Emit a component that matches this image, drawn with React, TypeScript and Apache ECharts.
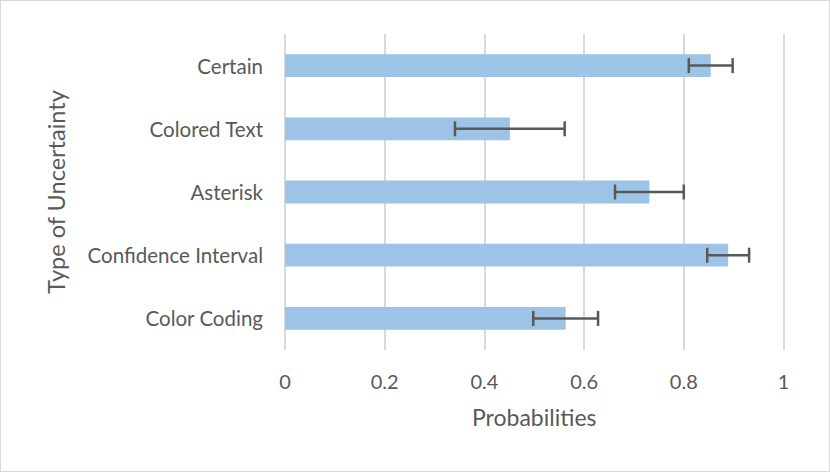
import React, { useEffect, useRef } from "react";
import * as echarts from "echarts";

const categories = ["Color Coding", "Confidence Interval", "Asterisk", "Colored Text", "Certain"];
const means = [0.563, 0.889, 0.731, 0.451, 0.854];
const errors = [0.065, 0.042, 0.069, 0.11, 0.044];
const xTicks = [0, 0.2, 0.4, 0.6, 0.8, 1];

export default function App() {
  const ref = useRef<HTMLDivElement>(null);
  useEffect(() => {
    document.body.style.margin = "0";
    const chart = echarts.init(ref.current!, null, { renderer: "svg" });
    const font = "Lato, 'Open Sans', sans-serif";
    const errData = categories.map((c, i) => [i, means[i] - errors[i], means[i] + errors[i]]);
    chart.setOption({
      animation: false,
      grid: { left: 285, right: 46.5, top: 34, bottom: 122, containLabel: false },
      xAxis: {
        type: "value",
        min: 0,
        max: 1,
        interval: 0.2,
        name: "Probabilities",
        nameLocation: "middle",
        nameGap: 55,
        nameTextStyle: { color: "#595959", fontSize: 23, fontFamily: font },
        axisLine: { show: false },
        axisTick: { show: false },
        axisLabel: {
          color: "#595959",
          fontSize: 20,
          fontFamily: font,
          margin: 21,
          formatter: (v: number) => (xTicks.includes(v) ? String(v) : ""),
        },
        splitLine: { show: true, lineStyle: { color: "#D9D9D9", width: 2 } },
      },
      yAxis: {
        type: "category",
        data: categories,
        name: "Type of Uncertainty",
        nameLocation: "middle",
        nameGap: 217,
        nameRotate: 90,
        nameTextStyle: { color: "#595959", fontSize: 23.5, fontFamily: font },
        axisLine: { show: false },
        axisTick: { show: false },
        axisLabel: { color: "#595959", fontSize: 20.5, fontFamily: font, margin: 22 },
        splitLine: { show: false },
      },
      series: [
        {
          type: "bar",
          data: means,
          barWidth: "36%",
          itemStyle: { color: "#9DC3E6" },
          silent: true,
        },
        {
          type: "custom",
          data: errData,
          silent: true,
          z: 10,
          renderItem: (params: any, api: any) => {
            const idx = api.value(0);
            const lo = api.coord([api.value(1), idx]);
            const hi = api.coord([api.value(2), idx]);
            const y = lo[1];
            const h = 7.5;
            const style = { stroke: "#595959", lineWidth: 2.5 };
            return {
              type: "group",
              children: [
                { type: "line", shape: { x1: lo[0], y1: y, x2: hi[0], y2: y }, style },
                { type: "line", shape: { x1: lo[0], y1: y - h, x2: lo[0], y2: y + h }, style },
                { type: "line", shape: { x1: hi[0], y1: y - h, x2: hi[0], y2: y + h }, style },
              ],
            };
          },
          encode: { x: [1, 2], y: 0 },
        },
      ],
    });
    return () => chart.dispose();
  }, []);
  return (
    <div
      style={{
        position: "fixed",
        left: 0,
        top: 0,
        width: 830,
        height: 472,
        border: "1px solid #D9D9D9",
        boxSizing: "border-box",
        background: "#fff",
      }}
    >
      <div ref={ref} style={{ position: "absolute", left: -1, top: -1, width: 830, height: 472 }} />
    </div>
  );
}
